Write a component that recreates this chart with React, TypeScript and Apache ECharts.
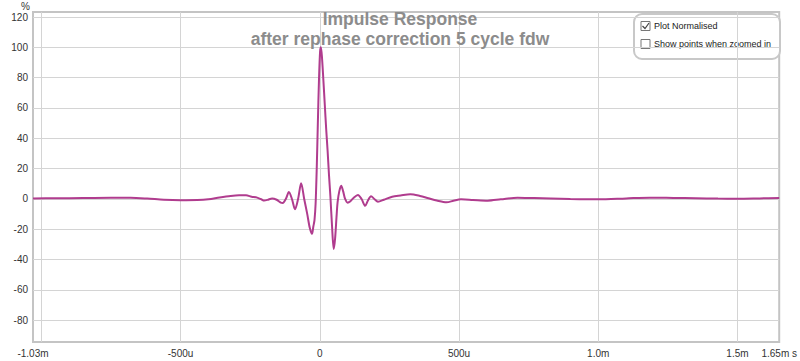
import React, { useEffect, useRef } from "react";
import * as echarts from "echarts";

// time in microseconds
const timeUs: number[] = [
  -1030, -950, -850, -750, -680, -620, -560, -500, -440, -400, -360, -320, -290, -265, -245, -225,
  -210, -200, -188, -171, -155, -140, -133, -122, -111, -100, -89, -78, -67, -56, -45, -36, -28,
  -23, -19, -15, -11, -7, -3, 1, 4, 8, 13, 18, 23, 28, 33, 38, 44, 50, 55, 60, 64, 70, 77, 84, 91,
  100, 110, 120, 137, 150, 163, 173, 184, 196, 209, 230, 260, 290, 325, 360, 390, 420, 455, 480,
  507, 550, 603, 650, 710, 770, 830, 900, 1000, 1100, 1185, 1270, 1350, 1430, 1500, 1580, 1650,
];
// normalised amplitude in %
const amplitude: number[] = [
  0.4, 0.5, 0.6, 0.8, 0.8, 0.3, -0.5, -0.8, -0.7, -0.2, 1.0, 2.0, 2.4, 2.4, 1.5, 0.9,
  -0.2, -1.0, -0.6, 0.4, -0.5, -2.4, -2.6, 0, 4.6, 0, -6.8, 0, 10.3, 0, -10, -19, -23,
  -18, -14, -3, 20, 50, 78, 97, 100, 93, 78, 62, 46, 32, 16, 2, -18, -33, -26, -12, -2, 5, 8.7, 5, 0,
  -2.4, -1.5, 0.5, 2.6, 0, -4.5, -1, 1.8, 0, -1.8, -0.5, 1.5, 2.3, 3.1, 2, 0.5, -1, -2.2, -1.2,
  -0.2, -0.6, -1.1, -0.2, 0.9, 0.6, 0.3, 0, -0.2, 0.4, 0.9, 0.7, 0.5, 0.3, 0.2, 0.4, 0.6,
];

const xGridValues: number[] = [-1000, -500, 0, 500, 1000, 1500];
const xLabelValues: number[] = [-1030, -500, 0, 500, 1000, 1500, 1650];
const xLabelTexts: string[] = ["-1.03m", "-500u", "0", "500u", "1.0m", "1.5m", "1.65m s"];
const yTickValues: number[] = [-80, -60, -40, -20, 0, 20, 40, 60, 80, 100, 120];

const titleLines: string[] = ["Impulse Response", "after rephase correction 5 cycle fdw"];
const legendItems: string[] = ["Plot Normalised", "Show points when zoomed in"];
const legendChecked: boolean[] = [true, false];

export default function App() {
  const ref = useRef<HTMLDivElement>(null);

  useEffect(() => {
    if (!ref.current) return;
    const chart = echarts.init(ref.current, undefined, { renderer: "svg" });
    const data = timeUs.map((t, i) => [t, amplitude[i]]);
    const font = "'Liberation Sans', Arial, sans-serif";

    const legendChildren: any[] = [
      {
        type: "rect",
        shape: { x: 0, y: 0, width: 146, height: 45, r: 8 },
        style: { fill: "#fff", stroke: "#c8c8c8", lineWidth: 2 },
      },
    ];
    legendItems.forEach((txt, i) => {
      const cy = 12 + i * 18;
      legendChildren.push({
        type: "rect",
        shape: { x: 7, y: cy - 4.5, width: 9, height: 9 },
        style: { fill: "#fff", stroke: "#777", lineWidth: 1 },
      });
      if (legendChecked[i]) {
        legendChildren.push({
          type: "polyline",
          shape: { points: [[8.5, cy], [11, cy + 2.5], [15, cy - 3]] },
          style: { stroke: "#444", lineWidth: 1.2, fill: null },
        });
      }
      legendChildren.push({
        type: "text",
        x: 20,
        y: cy,
        style: {
          text: txt,
          fill: "#222",
          font: `9px ${font}`,
          textVerticalAlign: "middle",
          verticalAlign: "middle",
        },
      });
    });

    chart.setOption({
      animation: false,
      backgroundColor: "#ffffff",
      title: {
        text: titleLines.join("\n"),
        left: "center",
        top: 4,
        textStyle: {
          fontFamily: font,
          fontSize: 17.5,
          fontWeight: "bold",
          color: "#8c8c8c",
          lineHeight: 20,
        },
      },
      grid: {
        left: 33,
        right: 17,
        top: 12,
        bottom: 19,
        show: true,
        borderColor: "#c4c4c4",
        borderWidth: 2,
        backgroundColor: "transparent",
      },
      xAxis: {
        type: "value",
        min: -1030,
        max: 1650,
        axisLine: { show: false },
        axisTick: { show: false, customValues: xGridValues },
        splitLine: { show: true, lineStyle: { color: "#d4d4d4", width: 1 } },
        axisLabel: {
          customValues: xLabelValues,
          margin: 6,
          fontFamily: font,
          fontSize: 10,
          color: "#333",
          formatter: (v: number) => {
            const idx = xLabelValues.indexOf(Math.round(v));
            return idx >= 0 ? xLabelTexts[idx] : "";
          },
        },
      },
      yAxis: {
        type: "value",
        min: -94.3,
        max: 123.3,
        axisLine: { show: false },
        axisTick: { show: false, customValues: yTickValues },
        splitLine: { show: true, lineStyle: { color: "#d4d4d4", width: 1 } },
        axisLabel: {
          customValues: yTickValues,
          margin: 5,
          fontFamily: font,
          fontSize: 10,
          color: "#333",
        },
      },
      graphic: [
        {
          type: "text",
          left: 21,
          top: 1,
          style: { text: "%", fill: "#333", font: `10px ${font}` },
        },
        {
          type: "group",
          x: 634,
          y: 14,
          children: legendChildren,
        },
      ],
      series: [
        {
          type: "line",
          data,
          smooth: 0.3,
          showSymbol: false,
          symbol: "none",
          lineStyle: { color: "#b03c8e", width: 2 },
          z: 3,
        },
      ],
    });
    return () => chart.dispose();
  }, []);

  return (
    <div
      ref={ref}
      style={{ position: "fixed", left: 0, top: 0, width: 800, height: 361 }}
    />
  );
}
